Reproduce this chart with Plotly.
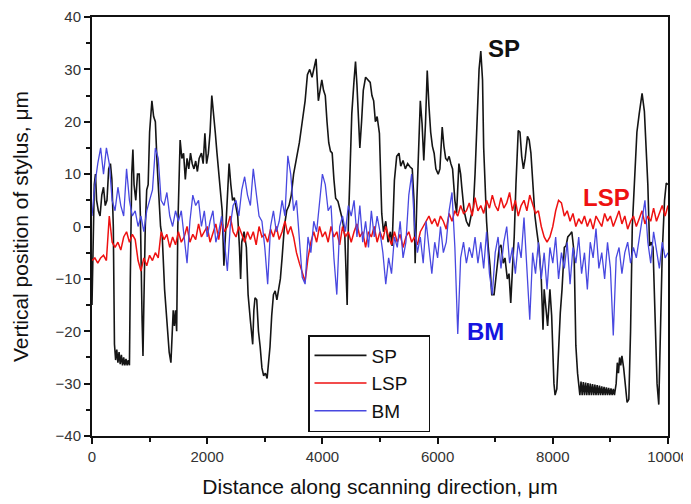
import plotly.graph_objects as go

# ---------------- data ----------------
sp_x = [0, 20, 40, 60, 80, 110, 140, 170, 200, 230, 260, 290, 320, 345, 370,
        390, 410, 430, 450, 470, 490, 510, 530, 550, 570, 590, 610, 630, 650,
        665, 690, 710, 730, 760, 790, 820, 840, 870, 885, 900, 925, 950, 975,
        1000, 1040, 1070, 1100, 1130, 1160, 1190, 1220, 1260, 1300, 1340, 1370,
        1390, 1410, 1430, 1450, 1470, 1490, 1530, 1560, 1590, 1620, 1650, 1680,
        1710, 1740, 1770, 1800, 1830, 1860, 1900, 1930, 1960, 1990, 2020, 2050,
        2080, 2110, 2140, 2170, 2200, 2230, 2260, 2290, 2310, 2340, 2380, 2410,
        2440, 2470, 2500, 2530, 2560, 2580, 2600, 2640, 2680, 2710, 2750, 2790,
        2810, 2830, 2860, 2890, 2920, 2950, 2980, 3010, 3040, 3070, 3090, 3120,
        3150, 3180, 3210, 3240, 3270, 3300, 3340, 3380, 3420, 3460, 3500, 3550,
        3600, 3650, 3700, 3740, 3780, 3820, 3860, 3890, 3910, 3930, 3960, 3990,
        4020, 4050, 4080, 4110, 4140, 4170, 4200, 4230, 4270, 4310, 4350, 4390,
        4430, 4450, 4480, 4510, 4550, 4575, 4600, 4630, 4650, 4680, 4710, 4750,
        4790, 4830, 4860, 4890, 4920, 4950, 4990, 5030, 5060, 5100, 5140, 5180,
        5210, 5250, 5290, 5330, 5360, 5400, 5440, 5480, 5520, 5560, 5590, 5610,
        5640, 5670, 5700, 5730, 5760, 5790, 5820, 5850, 5880, 5910, 5940, 5970,
        6010, 6040, 6080, 6110, 6140, 6170, 6200, 6230, 6260, 6300, 6330, 6370,
        6400, 6420, 6460, 6500, 6545, 6580, 6620, 6650, 6690, 6720, 6750, 6780,
        6800, 6820, 6850, 6880, 6910, 6940, 6980, 7010, 7040, 7070, 7100, 7140,
        7170, 7210, 7240, 7270, 7300, 7330, 7360, 7400, 7430, 7460, 7490, 7520,
        7560, 7590, 7620, 7650, 7690, 7720, 7760, 7800, 7830, 7850, 7880, 7910,
        7950, 7980, 8020, 8040, 8070, 8100, 8130, 8160, 8200, 8230, 8260, 8300,
        8330, 8370, 8400, 8430, 8450, 8470, 8490, 8510, 8530, 8550, 8570, 8590,
        8610, 8630, 8650, 8670, 8690, 8710, 8730, 8750, 8770, 8790, 8810, 8830,
        8850, 8870, 8890, 8910, 8930, 8950, 8970, 8990, 9010, 9030, 9050, 9070,
        9100, 9120, 9140, 9160, 9180, 9200, 9230, 9260, 9290, 9320, 9350, 9380,
        9420, 9460, 9500, 9550, 9590, 9620, 9650, 9680, 9710, 9740, 9770, 9810,
        9840, 9870, 9900, 9940, 9970, 10000]
sp_y = [-15, -5, 8, 10, 5, 3, 2, 6, 7.5, 4, 5, 11, 12, 9, 0,
        -22.5, -25.5, -23.5, -26, -24, -26.3, -24.5, -26.5, -25, -26.5, -25.3, -26.5, -25.5, -26.5,
        -10, 10, 14.7, 8, 5, 10, 10, 2, -18, -24.7, -15, 0, 7, 8,
        18, 24, 21, 20, 12, 5, 0, -2, -12, -18, -24, -26,
        -20, -16, -19, -16, -20, 0, 16.5, 13, 14, 9, 13, 11,
        14, 12, 11, 12.5, 10.5, 13, 14, 12, 17.8, 12, 14, 18,
        25, 22, 18, 14, 10, 6, 3, -7.5, -3, 5, 12, 8,
        5, 5.5, 4, 2, -4, -10, -3, -1, -4, -13, -18, -22.5,
        -16, -13.6, -14, -20, -23, -27, -28.5, -28, -29, -25, -23, -17,
        -13, -12.3, -14, -12, -10, -6, 0, 3, 4, 6, 10, 13,
        16, 20, 24, 29, 30, 28.5, 30.5, 32, 28, 24, 26, 28,
        26, 25, 20, 16, 14.4, 14, 9, 5.4, 4.8, 3, 1.2, -2,
        -15, 0, 12, 21.5, 28, 31.5, 27, 20, 15, 20, 26, 28.5,
        28, 27.5, 25, 24, 20, 21, 17.8, 2.5, -1, 1, -3, -1,
        -3.7, 8.8, 13.4, 14, 11.5, 12.6, 11, 12, 11.4, 11, 5, -7,
        5, 15, 24, 19.7, 12.6, 19.7, 29.8, 23, 18, 15.3, 14, 11,
        10, 11, 19, 15.3, 13, 12.6, 13.4, 12, 11, 5, 2.6, 12,
        10, 7.5, 3, 1, 0, 2, 3.5, 10, 21.5, 30, 33.5, 28,
        15, 8.8, 1, -4, -7.5, -13, -13, -10, -7, -4, -3.5, -7,
        -6, -10, -9, -14.6, -8, -2, 8, 18.3, 18, 13.4, 11, 13,
        17.2, 16.5, 14, 8, 2, -0.7, -4, -10, -19.7, -12, -16, -19,
        -12, -17, -30, -32.2, -31, -22, -16.5, -12, -4, -3.7, -2, -1.5,
        -1, -5, -22.7, -28, -30.3, -32.2, -29.6, -32.2, -29.7, -32.2, -29.8, -32.2,
        -29.9, -32.2, -30.0, -32.2, -30.1, -32.2, -30.2, -32.2, -30.3, -32.2, -30.4, -32.2,
        -30.5, -32.2, -30.6, -32.2, -30.7, -32.2, -30.8, -32.2, -30.9, -32.2, -31, -32.2,
        -30, -26, -28, -25, -26.5, -24.7, -27, -30, -33.6, -33, -20, 0,
        10, 18, 21.5, 25.4, 22, 15.3, 8, -3.7, -3, -4, -15, -30,
        -34, -20, -5, 5, 8.3, 8]

# LSP and BM sampled every 50 um
step = 50
lsp_y = [-6.5, -6, -7, -6, -5.5, -6.5, 2, -3, -4, -3,
         -4.5, -2, -1, -3, -1.5, -2.5, -6.5, -8.5, -6, -7.5,
         -5.5, -6.5, -5, -6, -1, -2.5, -1.5, -4, -2, -3.5,
         -1, -3, -2, 0, -3, -1.5, -2.5, 0.5, -2, -1,
         0, -3, -1, 0.5, -2.5, 1, -1, 0, 2, -1,
         -2, 0, -1.5, -3, -1, -2.5, -1, -3.5, 0, -2,
         -1.5, -3, -0.5, -2, 0, -2.5, -1, 1, -1.5, 0,
         -2, -5, -7, -9, -10.5, -6, -3, -1, -3, 0,
         -2, -1, -3, 0, -2, -1, -3.5, 0, -2, -1,
         -3, -1, 0.5, -2, -1, -4, -1, -2, 0, -3,
         -1, -2.5, 0, -2, -3.5, -1, -3, -1.5, -4, -2,
         -1, -3, -2, -3.5, -1, 0, 1, 2, 0.5, 1.5,
         0, 2, 1, -0.5, 2.5, 1, 3, 2, 4, 2.5,
         3, 4.5, 2, 5.5, 3, 4, 2.5, 5, 3.5, 6,
         4, 3, 5.5, 3.5, 4.5, 6.5, 3, 5, 2, 4,
         5, 3, 6, 4, 2.5, 3, 0, -2, -3, -2,
         0, 3, 5, 4.5, 2, 3, 1, 2.5, 0, 1.5,
         0.5, 2, 0, 1.5, -0.5, 2, 1, 0, 2.5, 1,
         2, 0, 1.5, 3, 0.5, 2, -0.5, 1, 2, 0,
         1.5, 3, 0.5, 2, 1, 3.5, 1, 2.5, 4, 2,
         4]
bm_y = [2, 8, 12, 15, 10, 15, 12, 5, 3, 7.5,
        4, 2, 11, 5, 2, 3, 0, 2, -1, 3,
        5, 7, 15, 13, 5, 4, 6.5, 2, 0, 3,
        1, 3, -2, -7, 1, 6, 4, 5, 0, 3,
        -2, 1, 3, -3, -1, 2, -3, -8.5, 0, 4,
        5, 2, 7, 9.5, 6, 4, 11, 7, 2, 1,
        -4, -11, 0, 3, -1, 1, 5, 2, 13.5, 10,
        3, 5, -3, -9.7, -11, -2, -5, 1, -1, 5,
        10, 8, 3, 4, -6, -13, 0, 2, -1, 4,
        2, 5, -2, 4, -3, 1, -4, 3, -2, 2,
        -1, -5, -11, -6, -9, -2, -4, 1, -6, -3,
        6, 10, 0, -5, -2, -7, 1, -4, -9, -3,
        -6, 0, -5, -3, 3, 6.5, -4, -20.5, -6, -3,
        -7, -4, -6, -2, -7, -3, -8, -1, -9, -13,
        -5, -2, -8, -3, 0, -7, -4, -9, -3, -6,
        1.7, -8, -17.8, -5, -9, -3, -10, -5, -12, -4,
        -7, -2, -10, -5, -8, -3, -11, -4, -7, -2,
        -9, -5, -12, -3, -6, -0.4, -8, -5, -10, -3,
        -8, -20.8, -6, -4, -9, -5, -3, -7, -4, -6,
        -2, 1, 5, -3, -7, -1, -5, -8, -3, -6,
        -5]
lsp_x = [i * step for i in range(len(lsp_y))]
bm_x = [i * step for i in range(len(bm_y))]

x_ticks = [0, 2000, 4000, 6000, 8000, 10000]
y_ticks = [-40, -30, -20, -10, 0, 10, 20, 30, 40]

# ---------------- figure ----------------
FONT = "Liberation Sans, Arial, sans-serif"
fig = go.Figure()
fig.add_trace(go.Scatter(x=sp_x, y=sp_y, mode="lines", name="SP",
                         line=dict(color="#151515", width=1.6)))
fig.add_trace(go.Scatter(x=lsp_x, y=lsp_y, mode="lines", name="LSP\u00a0\u00a0\u00a0",
                         line=dict(color="#ee1111", width=1.5)))
fig.add_trace(go.Scatter(x=bm_x, y=bm_y, mode="lines", name="BM",
                         line=dict(color="#4848e0", width=1.3)))

fig.add_annotation(x=7150, y=34, text="<b>SP</b>", showarrow=False,
                   font=dict(family=FONT, size=24, color="#111111"))
fig.add_annotation(x=8940, y=5.6, text="<b>LSP</b>", showarrow=False,
                   font=dict(family=FONT, size=24, color="#ee1111"))
fig.add_annotation(x=6840, y=-20, text="<b>BM</b>", showarrow=False,
                   font=dict(family=FONT, size=24, color="#1515e0"))

axis_common = dict(showline=True, linecolor="#111111", linewidth=2, mirror=True,
                   ticks="outside", tickcolor="#111111", tickwidth=1.5, ticklen=6,
                   showgrid=False, zeroline=False, automargin=False,
                   ticklabeloverflow="allow", tickformat="d",
                   tickfont=dict(family=FONT, size=15, color="#333333"))

# the page body has an 8px margin, so the figure is drawn 8px right/down;
# margins compensate so the plot area lands where the reference has it.
fig.update_layout(
    width=691, height=504,
    margin=dict(l=84, r=31, t=9, b=76),
    paper_bgcolor="white", plot_bgcolor="white",
    font=dict(family=FONT, color="#222222"),
    showlegend=True,
    legend=dict(x=0.375, y=0.0095, xanchor="left", yanchor="bottom",
                bordercolor="#111111", borderwidth=1.5, bgcolor="white",
                font=dict(family=FONT, size=19, color="#111111"),
                tracegroupgap=0, itemwidth=52),
    xaxis=dict(range=[0, 10000], tickvals=x_ticks,
               minor=dict(dtick=1000, ticks="outside", ticklen=4, tickcolor="#111111"),
               title=dict(text="Distance along scanning direction, μm",
                          font=dict(family=FONT, size=21, color="#111111"), standoff=15),
               **axis_common),
    yaxis=dict(range=[-40, 40], tickvals=y_ticks,
               minor=dict(dtick=5, ticks="outside", ticklen=4, tickcolor="#111111"),
               title=dict(text="Vertical position of stylus, μm",
                          font=dict(family=FONT, size=21, color="#111111"), standoff=21),
               **axis_common),
)

fig.write_html("out.html")
